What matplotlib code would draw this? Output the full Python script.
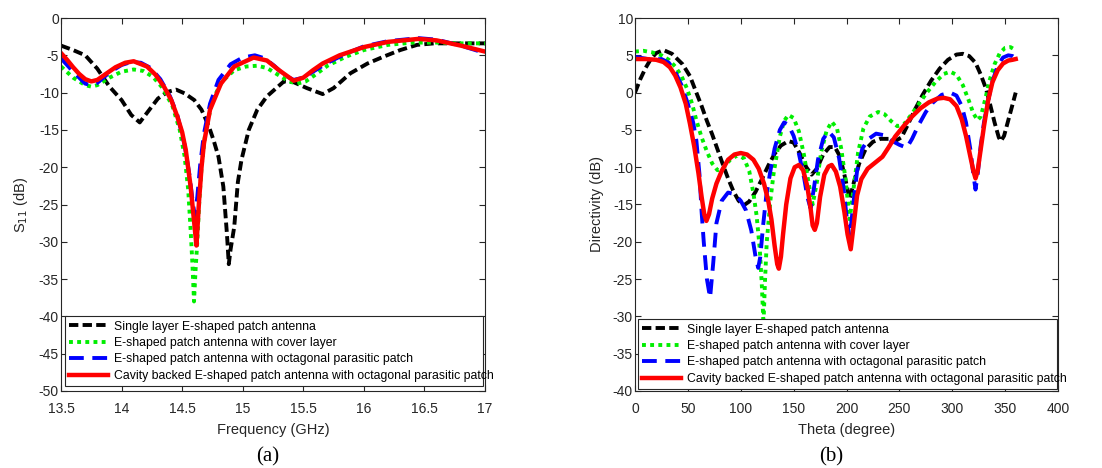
import matplotlib
matplotlib.use('Agg')
import matplotlib.pyplot as plt

plt.rcParams['font.family'] = ['Liberation Sans', 'DejaVu Sans']
plt.rcParams['axes.unicode_minus'] = False

labels = ['Single layer E-shaped patch antenna',
          'E-shaped patch antenna with cover layer',
          'E-shaped patch antenna with octagonal parasitic patch',
          'Cavity backed E-shaped patch antenna with octagonal parasitic patch']

# ---- (a) S11 vs frequency ----
f_single = [13.5, 13.6, 13.7, 13.8, 13.9, 14.0, 14.08, 14.15, 14.22, 14.3, 14.38, 14.45, 14.52,
            14.6, 14.66, 14.72, 14.76, 14.8, 14.84, 14.87, 14.885, 14.9, 14.93, 14.96, 14.99,
            15.05, 15.12, 15.2, 15.34, 15.42, 15.53, 15.66, 15.75, 15.89, 16.03, 16.16, 16.3,
            16.44, 16.58, 17.0]
s_single = [-3.7, -4.3, -5.0, -6.8, -9.2, -11.0, -13.0, -14.0, -12.5, -10.8, -9.9, -9.6, -10.1,
            -11.0, -12.3, -14.5, -16.4, -18.6, -22.6, -29.0, -33.0, -31.0, -28.0, -22.0, -19.0,
            -15.0, -12.3, -10.5, -8.5, -8.6, -9.4, -10.2, -9.4, -7.4, -6.1, -5.2, -4.3,
            -3.6, -3.4, -3.4]

f_cover = [13.5, 13.6, 13.7, 13.75, 13.8, 13.9, 14.0, 14.1, 14.18, 14.26, 14.34, 14.42, 14.48,
           14.52, 14.55, 14.57, 14.585, 14.598, 14.61, 14.625, 14.64, 14.66, 14.69, 14.75, 14.83,
           14.93, 15.03, 15.12, 15.2, 15.3, 15.38, 15.45, 15.52, 15.6, 15.7, 15.85, 16.0, 16.2,
           16.4, 16.6, 16.8, 17.0]
s_cover = [-6.5, -8.0, -9.0, -9.2, -9.0, -8.0, -7.2, -6.9, -7.1, -7.9, -9.4, -11.8, -15.0,
           -18.5, -23.0, -28.4, -33.0, -38.0, -34.0, -30.0, -25.0, -20.0, -15.5, -11.0, -8.5,
           -7.0, -6.5, -6.4, -6.7, -7.7, -8.5, -8.8, -8.5, -7.6, -6.4, -5.2, -4.3, -3.6,
           -3.3, -3.3, -3.4, -3.4]

f_oct = [13.5, 13.6, 13.7, 13.75, 13.8, 13.9, 14.0, 14.08, 14.16, 14.24, 14.32, 14.4, 14.46,
         14.52, 14.56, 14.59, 14.605, 14.625, 14.65, 14.68, 14.73, 14.8, 14.9, 15.0, 15.1, 15.18,
         15.26, 15.34, 15.42, 15.5, 15.58, 15.7, 15.85, 16.0, 16.2, 16.45, 16.6, 16.8, 17.0]
s_oct = [-5.4, -7.2, -8.8, -9.0, -8.7, -7.3, -6.3, -5.9, -6.0, -6.7, -8.2, -10.5, -13.0,
         -17.0, -21.0, -25.0, -26.5, -24.0, -19.5, -15.5, -11.5, -8.3, -6.2, -5.3, -5.0, -5.4,
         -6.4, -7.6, -8.3, -8.0, -7.2, -6.0, -4.8, -3.8, -3.1, -2.7, -2.9, -3.7, -4.7]

f_cavity = [13.5, 13.55, 13.6, 13.65, 13.7, 13.75, 13.8, 13.87, 13.95, 14.03, 14.1, 14.21, 14.28,
            14.35, 14.41, 14.46, 14.5, 14.53, 14.57, 14.6, 14.618, 14.64, 14.66, 14.68, 14.73,
            14.82, 14.93, 15.09, 15.2, 15.3, 15.42, 15.5, 15.58, 15.66, 15.8, 16.0, 16.2, 16.45,
            16.6, 16.8, 17.0]
s_cavity = [-4.7, -5.6, -6.6, -7.5, -8.2, -8.5, -8.3, -7.5, -6.6, -6.0, -5.8, -6.5, -7.6,
            -9.2, -11.0, -13.2, -15.3, -17.7, -22.6, -27.5, -30.5, -24.4, -20.0, -16.8, -12.3,
            -8.8, -6.5, -5.3, -5.7, -7.0, -8.4, -8.0, -7.0, -6.1, -5.0, -3.9, -3.2, -2.8,
            -3.0, -3.7, -4.5]

# ---- (b) Directivity vs theta ----
t_single = [0, 5, 10, 15, 20, 27, 35, 45, 52, 58, 63, 68, 73, 78, 83, 88, 93, 98, 103, 108, 114,
            120, 126, 132, 138, 145, 150, 156, 162, 167, 172, 178, 184, 189, 194, 198, 203, 207,
            212, 218, 225, 232, 240, 246, 252, 258, 265, 272, 280, 288, 296, 304, 310, 316, 322,
            327, 332, 336, 340, 344, 346, 349, 353, 357, 360]
d_single = [0.0, 1.8, 3.3, 4.5, 5.3, 5.7, 5.2, 3.8, 2.2, 0.0, -1.8, -3.8, -5.6, -7.6, -9.6, -11.5,
            -13.2, -14.5, -15.1, -14.6, -13.3, -11.6, -9.8, -8.2, -7.1, -6.5, -6.7, -8.2, -10.0,
            -11.0, -10.2, -8.3, -7.3, -7.3, -8.6, -11.0, -14.3, -12.0, -9.5, -7.6, -6.6, -6.2,
            -6.2, -6.5, -6.0, -4.3, -2.2, -0.3, 1.6, 3.2, 4.4, 5.1, 5.2, 4.9, 4.0, 2.4, 0.5,
            -1.7, -4.0, -6.0, -6.5, -5.8, -3.7, -1.6, 0.0]

t_cover = [0, 8, 16, 25, 32, 38, 44, 49, 54, 58, 63, 68, 73, 78, 83, 90, 97, 103, 108, 112, 115,
           118, 120, 121.5, 123, 124.6, 128, 131, 137, 141, 145, 150, 155, 160, 164, 168, 172,
           176, 181, 186, 191, 195, 199, 203, 207, 211, 216, 222, 230, 236, 242, 248, 254, 260,
           268, 276, 284, 292, 298, 304, 310, 316, 320, 324, 327, 331, 335, 340, 345, 350, 355,
           360]
d_cover = [5.5, 5.6, 5.4, 5.0, 4.4, 3.5, 2.2, 0.6, -1.5, -3.7, -6.0, -7.9, -9.5, -10.4, -10.2,
           -9.0, -8.4, -8.8, -10.5, -13.5, -16.5, -21.0, -26.0, -31.0, -25.0, -20.0, -14.5,
           -10.9, -5.9, -3.8, -3.0, -3.4, -5.2, -8.5, -12.0, -15.0, -12.0, -8.0, -5.2, -3.9,
           -4.8, -7.5, -11.5, -17.0, -12.5, -8.0, -4.8, -3.2, -2.6, -2.9, -3.8, -4.5, -4.3,
           -3.2, -1.6, 0.0, 1.4, 2.5, 2.8, 2.4, 1.0, -1.2, -2.8, -3.7, -3.2, -1.0, 1.5, 3.8,
           5.3, 6.0, 6.1, 5.7]

t_oct = [0, 8, 16, 25, 32, 38, 44, 50, 55, 58, 61, 63, 65, 68, 71, 74, 77, 82, 88, 94, 100, 105,
         110, 114, 116.5, 118.5, 121, 124, 128, 132, 137, 141, 145, 150, 155, 160, 163, 166, 169,
         173, 178, 183, 188, 193, 197, 200, 203, 206, 210, 215, 221, 228, 235, 242, 250, 257,
         262, 268, 275, 282, 290, 298, 304, 309, 313, 317, 320, 322, 324, 327, 330, 334, 338,
         343, 348, 353, 357, 360]
d_oct = [4.8, 4.6, 4.4, 4.5, 4.0, 2.8, 1.0, -1.5, -4.0, -6.4, -11.0, -16.0, -20.0, -25.0, -27.5,
         -22.8, -17.5, -14.5, -13.4, -13.6, -14.5, -15.8, -18.5, -22.0, -23.5, -22.0, -18.0,
         -14.0, -10.5, -7.5, -5.0, -4.0, -4.3, -5.8, -8.2, -11.5, -14.0, -15.5, -13.0, -9.0,
         -6.2, -5.2, -6.0, -8.8, -12.5, -16.5, -19.5, -15.5, -10.5, -7.5, -6.2, -5.5, -5.7,
         -6.4, -7.0, -7.4, -6.2, -4.4, -2.6, -1.3, -0.3, 0.0, -0.4, -1.8, -4.0, -7.5, -11.0,
         -13.0, -11.0, -7.0, -4.0, -1.0, 1.5, 3.6, 4.7, 5.0, 4.9, 4.6]

t_cavity = [0, 10, 20, 27, 33, 38, 43, 48, 52, 56, 60, 63, 65.5, 67.5, 70, 73, 77, 82, 88, 94, 100,
            106, 112, 117, 122, 126, 129, 132, 134.5, 136, 138, 140, 143, 147, 151, 155, 159, 163,
            166, 168, 170, 172, 175, 179, 183, 186, 190, 194, 198, 201, 204, 207, 210, 214, 220,
            227, 234, 240, 246, 254, 262, 270, 278, 286, 292, 298, 304, 309, 313, 317, 320, 322,
            324, 327, 330, 334, 338, 343, 348, 353, 357, 360]
d_cavity = [4.5, 4.5, 4.4, 4.1, 3.4, 2.3, 0.7, -1.5, -4.2, -7.2, -10.8, -14.0, -16.3, -17.2,
            -16.3, -14.2, -12.2, -10.5, -9.0, -8.3, -8.1, -8.3, -9.0, -10.2, -12.2, -14.5, -17.0,
            -20.5, -23.0, -23.6, -22.0, -19.0, -15.0, -11.5, -10.0, -9.7, -10.4, -12.6, -15.5,
            -17.8, -18.4, -17.5, -14.0, -11.0, -9.9, -9.7, -10.6, -12.6, -16.0, -19.0, -21.0,
            -17.5, -13.8, -11.6, -10.2, -9.4, -8.6, -7.3, -5.9, -4.5, -3.2, -2.1, -1.3, -0.8,
            -0.7, -0.9, -1.8, -3.6, -5.8, -8.5, -10.5, -11.5, -10.5, -7.5, -4.5, -1.0, 1.4, 3.0,
            3.9, 4.3, 4.4, 4.5]

styles = [dict(color='k', lw=2.8, dashes=(2.4, 1.1)),
          dict(color='#00ee00', lw=2.8, dashes=(1.0, 1.1)),
          dict(color='#0000ff', lw=2.8, dashes=(3.8, 2.2)),
          dict(color='#ff0000', lw=3.2)]

axcolor = '#262626'

fig = plt.figure(figsize=(11.02, 4.68), dpi=100)
ax1 = fig.add_axes([61/1102, 1-391/468, 424/1102, 373/468])
ax2 = fig.add_axes([635/1102, 1-391/468, 423/1102, 373/468])

data1 = [(f_single, s_single), (f_cover, s_cover), (f_oct, s_oct), (f_cavity, s_cavity)]
data2 = [(t_single, d_single), (t_cover, d_cover), (t_oct, d_oct), (t_cavity, d_cavity)]

for ax, data in ((ax1, data1), (ax2, data2)):
    for (x, y), lab, st in zip(data, labels, styles):
        ax.plot(x, y, label=lab, **st)

ax1.set_xlim(13.5, 17)
ax1.set_ylim(-50, 0)
ax1.set_xticks([13.5, 14, 14.5, 15, 15.5, 16, 16.5, 17])
ax1.set_xticklabels(['13.5', '14', '14.5', '15', '15.5', '16', '16.5', '17'])
ax1.set_yticks(range(-50, 1, 5))
ax1.set_xlabel('Frequency (GHz)', fontsize=10.5, color=axcolor, labelpad=5)
ax1.set_ylabel('S$_{11}$ (dB)', fontsize=10.5, color=axcolor, labelpad=6)

ax2.set_xlim(0, 400)
ax2.set_ylim(-40, 10)
ax2.set_xticks(range(0, 401, 50))
ax2.set_yticks(range(-40, 11, 5))
ax2.set_xlabel('Theta (degree)', fontsize=10.5, color=axcolor, labelpad=5)
ax2.set_ylabel('Directivity (dB)', fontsize=10.5, color=axcolor, labelpad=6)

for ax in (ax1, ax2):
    ax.tick_params(direction='in', top=True, right=True, length=4, width=0.8,
                   labelsize=10, colors=axcolor)
    ax.tick_params(axis='x', pad=8)
    ax.tick_params(axis='y', pad=1.5)
    for sp in ax.spines.values():
        sp.set_color(axcolor)
        sp.set_linewidth(0.8)

leg_kw = dict(loc='lower left', mode='expand', fontsize=8.8, handlelength=3.2,
              handletextpad=0.45, labelspacing=0.36, borderaxespad=0, fancybox=False,
              edgecolor=axcolor, framealpha=1, borderpad=0.35)
ax1.legend(bbox_to_anchor=(0.009, 0.013, 0.986, 0.19), **leg_kw).get_frame().set_linewidth(0.8)
ax2.legend(bbox_to_anchor=(0.007, 0.005, 0.99, 0.19), **leg_kw).get_frame().set_linewidth(0.8)

fig.text(268/1102, 1-457/468, '(a)', ha='center', va='center', fontsize=15,
         family='Liberation Serif')
fig.text(831/1102, 1-457/468, '(b)', ha='center', va='center', fontsize=15,
         family='Liberation Serif')

fig.savefig('out.png', dpi=100)
